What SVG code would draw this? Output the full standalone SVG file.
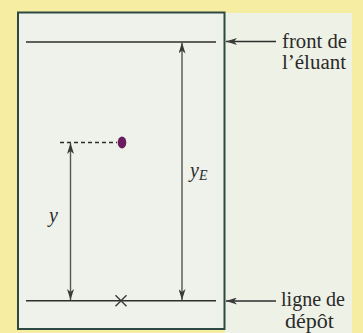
<svg xmlns="http://www.w3.org/2000/svg" width="363" height="333" viewBox="0 0 363 333">
  <defs>
    <marker id="ah" viewBox="0 0 11 7" refX="11" refY="3.5" markerWidth="11" markerHeight="7" markerUnits="userSpaceOnUse" orient="auto-start-reverse">
      <path d="M0,0 L11,3.5 L0,7 L3,3.5 Z" fill="#3a3a3a"/>
    </marker>
  </defs>
  <style>
    .lbl { font-family: "Liberation Serif", "Times New Roman", serif; font-size: 20px; fill: #2a2a2a; }
    .var { font-family: "Liberation Serif", "Times New Roman", serif; font-style: italic; font-size: 20px; fill: #2a2a2a; }
    .sub { font-family: "Liberation Serif", "Times New Roman", serif; font-style: italic; font-size: 14px; fill: #2a2a2a; }
    .hline { stroke: #2e2e2e; stroke-width: 1.6; fill: none; }
    .shaft { stroke: #555; stroke-width: 1.4; fill: none; }
    .pointer { stroke: #2e2e2e; stroke-width: 1.5; fill: none; }
  </style>
  <rect x="0" y="0" width="363" height="333" fill="#f6eca2"/>
  <rect x="225" y="13" width="127" height="320" fill="#eef1e6"/>
  <g id="plate">
    <rect x="18" y="12.5" width="206.5" height="316.5" fill="#eef2ea" stroke="#2c4a42" stroke-width="2"/>
  </g>
  <g id="front-line">
    <line class="hline" x1="26" y1="42" x2="216" y2="42"/>
  </g>
  <g id="deposit-line">
    <line class="hline" x1="26" y1="300.7" x2="216" y2="300.7"/>
    <path d="M115.5,295.2 L126.5,306.2 M126.5,295.2 L115.5,306.2" stroke="#3a3a3a" stroke-width="1.4"/>
  </g>
  <g id="spot">
    <line x1="60" y1="142.5" x2="117" y2="142.5" stroke="#2e2e2e" stroke-width="1.4" stroke-dasharray="4,3"/>
    <ellipse cx="122" cy="142.5" rx="4.3" ry="6" fill="#6b1c5e"/>
  </g>
  <g id="connectors">
    <line class="shaft" x1="182" y1="42.5" x2="182" y2="300" marker-start="url(#ah)" marker-end="url(#ah)"/>
    <line class="shaft" x1="70.5" y1="143" x2="70.5" y2="300" marker-start="url(#ah)" marker-end="url(#ah)"/>
    <line class="pointer" x1="276" y1="41.5" x2="226" y2="41.5" marker-end="url(#ah)"/>
    <line class="pointer" x1="276" y1="301" x2="226" y2="301" marker-end="url(#ah)"/>
  </g>
  <g id="labels">
    <text class="var" x="190" y="177">y<tspan class="sub" dy="3">E</tspan></text>
    <text class="var" x="49" y="222">y</text>
    <text class="lbl" x="282" y="48" textLength="65" lengthAdjust="spacingAndGlyphs">front de</text>
    <text class="lbl" x="282" y="68.5" textLength="64" lengthAdjust="spacingAndGlyphs">l’éluant</text>
    <text class="lbl" x="281" y="306" textLength="64" lengthAdjust="spacingAndGlyphs">ligne de</text>
    <text class="lbl" x="285" y="328" textLength="49" lengthAdjust="spacingAndGlyphs">dépôt</text>
  </g>
</svg>
